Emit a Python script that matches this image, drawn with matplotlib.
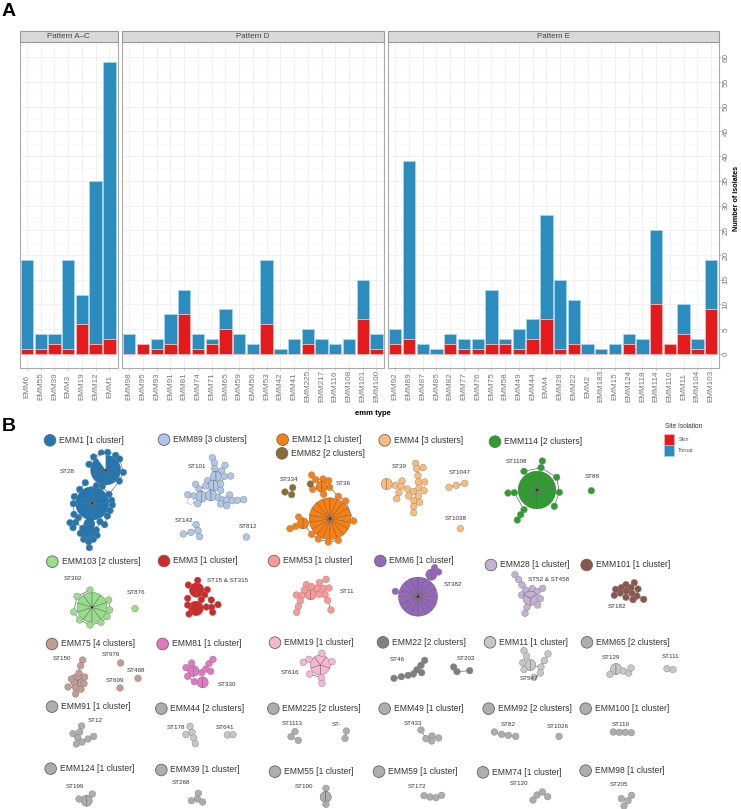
import matplotlib
matplotlib.use('Agg')
import matplotlib.pyplot as plt
from matplotlib.patches import Wedge, Circle, Rectangle

plt.rcParams['font.family'] = ['Liberation Sans', 'DejaVu Sans']

# --- panel A: isolates per emm type ---
PATTERN_NAMES = ['Pattern A–C', 'Pattern D', 'Pattern E']
EMM_AC = ['EMM6', 'EMM55', 'EMM39', 'EMM3', 'EMM19', 'EMM12', 'EMM1']
TOTAL_AC = [19, 4, 4, 19, 12, 35, 59]
SKIN_AC = [1, 1, 2, 1, 6, 2, 3]
EMM_D = ['EMM98', 'EMM95', 'EMM93', 'EMM91', 'EMM81', 'EMM74', 'EMM71', 'EMM65', 'EMM59', 'EMM56',
         'EMM53', 'EMM42', 'EMM41', 'EMM225', 'EMM217', 'EMM116', 'EMM108', 'EMM101', 'EMM100']
TOTAL_D = [4, 2, 3, 8, 13, 4, 3, 9, 4, 2, 19, 1, 3, 5, 3, 2, 3, 15, 4]
SKIN_D = [0, 2, 1, 2, 8, 1, 2, 5, 0, 0, 6, 0, 0, 2, 0, 0, 0, 7, 1]
EMM_E = ['EMM92', 'EMM89', 'EMM87', 'EMM85', 'EMM82', 'EMM77', 'EMM76', 'EMM75', 'EMM58', 'EMM49', 'EMM44', 'EMM4',
         'EMM28', 'EMM22', 'EMM2', 'EMM183', 'EMM15', 'EMM124', 'EMM118', 'EMM114', 'EMM110', 'EMM11', 'EMM104', 'EMM103']
TOTAL_E = [5, 39, 2, 1, 4, 3, 3, 13, 3, 5, 7, 28, 15, 11, 2, 1, 2, 4, 3, 25, 2, 10, 3, 19]
SKIN_E = [2, 3, 0, 0, 2, 1, 1, 2, 2, 1, 3, 7, 1, 2, 0, 0, 0, 2, 0, 10, 2, 4, 1, 9]
Y_TICKS = list(range(0, 61, 5))

# --- panel B: network layouts, (x, y, isolates), 0 isolates = empty node ---
EMM1_ST28 = [(277, 265, 12), (317, 165, 10), (304, 114, 1), (323, 112, 1), (347, 121, 1), (359, 132, 1), (267, 148, 1),
             (281, 126, 1), (370, 172, 1), (358, 198, 1), (256, 203, 1), (239, 223, 1), (289, 212, 1), (307, 214, 1),
             (327, 238, 1), (223, 245, 1), (220, 266, 1), (335, 256, 1), (337, 270, 1), (330, 287, 1), (322, 303, 1),
             (222, 298, 1), (235, 308, 1), (210, 323, 1), (227, 322, 1), (219, 338, 1), (268, 327, 2), (314, 329, 1),
             (248, 340, 1), (289, 345, 1), (241, 355, 1), (265, 355, 3), (291, 361, 1), (251, 373, 1), (280, 373, 1),
             (266, 380, 1), (268, 398, 1), (300, 320, 1)]
EMM89_ST101 = [(637, 128, 1), (643, 144, 1), (644, 161, 1), (675, 151, 1), (665, 168, 1), (648, 185, 2), (673, 184, 1),
               (692, 183, 1), (623, 197, 1), (640, 212, 2), (617, 213, 1), (587, 208, 1), (597, 222, 1), (662, 207, 1),
               (662, 226, 1), (604, 245, 2), (633, 241, 2), (563, 239, 1), (581, 243, 1), (593, 266, 1), (572, 258, 0),
               (655, 248, 1), (668, 255, 1), (689, 240, 1), (680, 255, 1), (697, 257, 1), (712, 256, 1), (731, 254, 1),
               (662, 267, 1), (680, 272, 1)]
EMM89_ST142 = [(588, 329, 1), (594, 347, 1), (573, 352, 1), (550, 357, 1), (599, 365, 1)]
EMM89_ST812 = [(739, 366, 1)]
EMM103_ST392 = [(156, 142, 10), (150, 90, 1), (111, 109, 1), (206, 120, 1), (209, 150, 1), (101, 156, 1), (201, 170, 1),
                (119, 180, 1), (183, 187, 1), (150, 195, 1)]
EMM103_ST876 = [(285, 146, 1)]
EMM3_ST15 = [(470, 90, 3), (468, 145, 3), (473, 61, 1), (445, 75, 1), (502, 89, 1), (443, 115, 1), (494, 104, 1),
             (484, 119, 1), (514, 120, 1), (534, 134, 1), (499, 141, 1), (515, 142, 1), (518, 157, 1), (447, 162, 1),
             (443, 135, 1)]
EMM53_ST11 = [(122, 538, 2), (109, 509, 1), (148, 503, 1), (168, 493, 1), (125, 515, 1), (103, 525, 1), (142, 520, 1),
              (160, 520, 1), (177, 519, 1), (79, 540, 1), (96, 541, 1), (148, 538, 1), (165, 539, 1), (173, 556, 1),
              (91, 558, 1), (85, 575, 1), (183, 585, 1), (80, 592, 1)]
EMM6_ST382 = [(444, 545, 16), (484, 479, 2), (494, 458, 1), (506, 471, 1), (376, 529, 1)]
EMM28_ST52 = [(645, 44, 1), (656, 59, 1), (666, 75, 1), (677, 90, 1), (697, 86, 1), (712, 94, 1), (728, 85, 1),
              (665, 105, 1), (691, 115, 3), (721, 116, 1), (713, 135, 1), (681, 142, 1), (675, 160, 1)]
EMM101_ST182 = [(403, 503, 1), (378, 509, 1), (364, 518, 1), (347, 523, 1), (393, 518, 1), (414, 522, 1), (379, 528, 1),
                (361, 534, 1), (396, 535, 1), (343, 541, 1), (378, 547, 1), (411, 543, 1), (399, 554, 1), (431, 553, 1)]
EMM114_ST1108 = [(111, 225, 15), (127, 138, 1), (123, 158, 1), (72, 169, 1), (170, 187, 1), (178, 232, 1), (43, 233, 1),
                 (24, 234, 1), (163, 274, 1), (72, 284, 1), (62, 299, 1), (52, 315, 1)]
EMM114_ST88 = [(274, 227, 1)]
EMM12_ST36 = [(180, 311, 18), (125, 180, 1), (137, 194, 1), (159, 192, 1), (176, 197, 1), (179, 217, 1), (128, 223, 1),
              (155, 215, 2), (161, 238, 1), (205, 244, 1), (227, 258, 1), (251, 318, 1), (205, 376, 1), (175, 381, 1),
              (145, 372, 1), (125, 358, 1), (99, 325, 2), (86, 306, 1), (77, 334, 1), (60, 341, 1)]
EMM82_ST334 = [(45, 231, 1), (68, 218, 1), (65, 239, 1)]
EMM82_OTHER = [(121, 207, 1)]
EMM4_ST39 = [(350, 207, 2), (376, 211, 1), (396, 198, 1), (393, 214, 1), (387, 232, 1), (380, 251, 1), (412, 222, 1),
             (430, 230, 1), (416, 243, 1), (445, 243, 1), (432, 257, 1), (449, 262, 1), (431, 274, 1), (431, 293, 1),
             (437, 145, 1), (440, 161, 1), (459, 158, 1), (444, 182, 1), (445, 201, 1), (464, 201, 1), (447, 219, 1),
             (462, 227, 1)]
EMM4_ST1047 = [(537, 217, 1), (559, 211, 1), (584, 205, 1)]
EMM4_ST1038 = [(571, 341, 1)]
EMM75_ST150 = [(233, 212, 3), (248, 150, 1), (242, 167, 1), (237, 189, 1), (254, 201, 1), (214, 207, 1), (252, 221, 1),
               (204, 231, 1), (227, 233, 1), (243, 238, 1), (227, 252, 1)]
EMM75_ST976 = [(362, 159, 1)]
EMM75_ST468 = [(414, 205, 1)]
EMM75_ST609 = [(360, 234, 1)]
EMM81_ST330 = [(580, 183, 2), (608, 217, 2), (575, 159, 1), (558, 173, 1), (563, 199, 1), (605, 188, 1), (583, 215, 1),
               (617, 177, 1), (632, 184, 1), (627, 161, 1), (639, 148, 1)]
EMM19_ST616 = [(961, 165, 5), (966, 130, 1), (927, 148, 1), (910, 157, 1), (996, 155, 1), (929, 192, 1), (964, 203, 1),
               (966, 220, 1)]
EMM91_ST12 = [(245, 348, 1), (239, 366, 1), (219, 371, 1), (233, 383, 1), (246, 396, 1), (229, 402, 1), (264, 387, 1),
              (281, 379, 1)]
EMM44_ST178 = [(570, 349, 1), (576, 367, 1), (558, 374, 1), (581, 384, 1), (586, 401, 1)]
EMM44_ST641 = [(682, 375, 1), (699, 374, 1)]
EMM225_ST1113 = [(885, 365, 1), (873, 380, 1), (895, 391, 1)]
EMM225_STX = [(1039, 363, 1), (1035, 385, 1)]
EMM124_ST199 = [(260, 572, 2), (237, 567, 1), (277, 552, 1)]
EMM39_ST268 = [(595, 550, 1), (592, 567, 1), (574, 572, 1), (608, 576, 1)]
EMM55_ST100 = [(978, 535, 1), (977, 561, 2), (978, 583, 1)]
EMM22_ST46 = [(164, 151, 1), (153, 166, 1), (141, 179, 1), (155, 188, 1), (130, 192, 1), (114, 196, 1), (94, 200, 1),
              (72, 205, 1)]
EMM22_ST202 = [(251, 171, 1), (261, 185, 1), (299, 182, 1)]
EMM11_ST547 = [(481, 165, 2), (462, 122, 1), (470, 138, 1), (458, 158, 1), (462, 179, 1), (534, 132, 1), (523, 152, 1),
               (513, 171, 1), (511, 189, 1), (492, 202, 1)]
EMM65_ST129 = [(738, 177, 2), (720, 193, 1), (760, 183, 1), (776, 189, 1), (783, 174, 1)]
EMM65_ST111 = [(891, 176, 1), (909, 179, 1)]
EMM49_ST433 = [(153, 360, 1), (186, 378, 1), (168, 386, 1), (185, 393, 1), (206, 384, 1)]
EMM92_ST82 = [(373, 366, 1), (395, 373, 1), (415, 376, 1), (437, 379, 1)]
EMM92_ST1026 = [(567, 379, 1)]
EMM100_ST119 = [(730, 366, 1), (748, 367, 1), (766, 367, 1), (784, 368, 1)]
EMM59_ST172 = [(162, 557, 1), (180, 561, 1), (198, 563, 1), (215, 556, 1)]
EMM74_ST120 = [(489, 570, 1), (501, 555, 1), (517, 546, 1), (533, 560, 1)]
EMM98_ST205 = [(785, 556, 1), (774, 572, 1), (754, 566, 1), (762, 588, 1)]

# crop origin the coordinates were read in (they are 3x pixels from there)
C5, C6, C7, C8, C9, C10, C11 = (0, 415), (270, 415), (500, 415), (0, 610), (370, 610), (40, 560), (300, 560)

# title, key colour, node colour, origin, key dot, text x, clusters, ST labels
NETWORKS = [
    ('EMM1 [1 cluster]', '#1f77b4', '#1f77b4', C5, (150, 76), 176, [EMM1_ST28], [('ST28', 201, 169)]),
    ('EMM89 [3 clusters]', '#aec7e8', '#aec7e8', C5, (492, 74), 519, [EMM89_ST101, EMM89_ST142, EMM89_ST812],
     [('ST101', 591, 153), ('ST142', 551, 318), ('ST812', 743, 334)]),
    ('EMM12 [1 cluster]', '#ff7f0e', '#ff7f0e', C6, (38, 74), 65, [EMM12_ST36], [('ST36', 220, 204)]),
    ('EMM82 [2 clusters]', '#8c6d31', '#8c6d31', C6, (36, 115), 63, [EMM82_ST334, EMM82_OTHER], [('ST334', 57, 192)]),
    ('EMM4 [3 clusters]', '#ffbb78', '#ffbb78', C6, (344, 76), 371, [EMM4_ST39, EMM4_ST1047, EMM4_ST1038],
     [('ST39', 388, 154), ('ST1047', 570, 171), ('ST1038', 558, 309)]),
    ('EMM114 [2 clusters]', '#2ca02c', '#2ca02c', C7, (-15, 80), 11, [EMM114_ST1108, EMM114_ST88],
     [('ST1108', 50, 140), ('ST88', 278, 185)]),
    ('EMM103 [2 clusters]', '#98df8a', '#98df8a', C5, (157, 440), 185, [], []),
    ('', '#98df8a', '#98df8a', C10, None, 0, [EMM103_ST392, EMM103_ST876], [('ST392', 100, 57), ('ST876', 287, 98)]),
    ('EMM3 [1 cluster]', '#d62728', '#d62728', C5, (492, 438), 519, [], []),
    ('', '#d62728', '#d62728', C10, None, 0, [EMM3_ST15], [('ST15 & ST315', 562, 61)]),
    ('EMM53 [1 cluster]', '#ff9896', '#ff9896', C6, (12, 438), 38, [EMM53_ST11], [('ST11', 230, 530)]),
    ('EMM6 [1 cluster]', '#9467bd', '#9467bd', C6, (331, 438), 357, [EMM6_ST382], [('ST382', 548, 510)]),
    ('EMM28 [1 cluster]', '#c5b0d5', '#c5b0d5', C11, (573, 15), 601, [EMM28_ST52], [('ST52 & ST458', 746, 58)]),
    ('EMM101 [1 cluster]', '#8c564b', '#8c564b', C7, (260, 450), 287, [EMM101_ST182], [('ST182', 351, 575)]),
    ('EMM75 [4 clusters]', '#c49c94', '#c49c94', C8, (156, 102), 183,
     [EMM75_ST150, EMM75_ST976, EMM75_ST468, EMM75_ST609],
     [('ST150', 186, 144), ('ST976', 334, 135), ('ST468', 408, 180), ('ST609', 346, 212)]),
    ('EMM81 [1 cluster]', '#e377c2', '#e377c2', C8, (488, 102), 515, [EMM81_ST330], [('ST330', 680, 222)]),
    ('EMM19 [1 cluster]', '#f7b6d2', '#f7b6d2', C8, (825, 98), 851, [EMM19_ST616], [('ST616', 871, 188)]),
    ('EMM22 [2 clusters]', '#7f7f7f', '#7f7f7f', C9, (39, 97), 65, [EMM22_ST46, EMM22_ST202],
     [('ST46', 81, 148), ('ST202', 288, 147)]),
    ('EMM11 [1 cluster]', '#c7c7c7', '#c7c7c7', C9, (360, 97), 386, [EMM11_ST547], [('ST547', 476, 205)]),
    ('EMM65 [2 clusters]', '#adadad', '#c7c7c7', C9, (651, 97), 677, [EMM65_ST129, EMM65_ST111],
     [('ST129', 724, 143), ('ST111', 902, 139)]),
    ('EMM91 [1 cluster]', '#adadad', '#adadad', C8, (156, 290), 183, [EMM91_ST12], [('ST12', 287, 330)]),
    ('EMM44 [2 clusters]', '#adadad', '#c7c7c7', C8, (484, 296), 511, [EMM44_ST178, EMM44_ST641],
     [('ST178', 529, 352), ('ST641', 675, 352)]),
    ('EMM225 [2 clusters]', '#adadad', '#adadad', C8, (820, 296), 847, [EMM225_ST1113, EMM225_STX],
     [('ST1113', 876, 340), ('ST-', 1010, 343)]),
    ('EMM49 [1 cluster]', '#adadad', '#adadad', C9, (44, 296), 71, [EMM49_ST433], [('ST433', 128, 341)]),
    ('EMM92 [2 clusters]', '#adadad', '#adadad', C9, (356, 296), 383, [EMM92_ST82, EMM92_ST1026],
     [('ST82', 415, 343), ('ST1026', 562, 351)]),
    ('EMM100 [1 cluster]', '#adadad', '#adadad', C9, (647, 296), 674, [EMM100_ST119], [('ST119', 753, 342)]),
    ('EMM124 [1 cluster]', '#adadad', '#adadad', C8, (152, 476), 179, [EMM124_ST199], [('ST199', 223, 530)]),
    ('EMM39 [1 cluster]', '#adadad', '#adadad', C8, (484, 480), 511, [EMM39_ST268], [('ST268', 544, 518)]),
    ('EMM55 [1 cluster]', '#adadad', '#adadad', C8, (825, 485), 851, [EMM55_ST100], [('ST100', 913, 530)]),
    ('EMM59 [1 cluster]', '#adadad', '#adadad', C9, (27, 485), 53, [EMM59_ST172], [('ST172', 142, 530)]),
    ('EMM74 [1 cluster]', '#adadad', '#adadad', C9, (339, 487), 365, [EMM74_ST120], [('ST120', 448, 520)]),
    ('EMM98 [1 cluster]', '#adadad', '#adadad', C9, (647, 482), 674, [EMM98_ST205], [('ST205', 746, 525)]),
]

W, H = 741, 809
SKIN = '#e41a1c'
THROAT = '#2b8cbe'
TICK_GREY = '#777777'
PANEL_TOP, PANEL_BOTTOM = 42.3, 368.3
STEP = 13.73
# left edge, right edge, first bar centre in pixels
PANELS = [(19.5, 117.5, 27.0), (121.5, 384.0, 129.3), (388.0, 718.7, 395.3)]

fig = plt.figure(figsize=(W / 100, H / 100), dpi=100)


def draw_panel(left, right, first, names, total, skin, last):
    ax = fig.add_axes([left / W, 1 - PANEL_BOTTOM / H, (right - left) / W, (PANEL_BOTTOM - PANEL_TOP) / H])
    xs = list(range(len(names)))
    throat = [t - s for t, s in zip(total, skin)]
    ax.bar(xs, throat, bottom=skin, width=0.9, color=THROAT, edgecolor='#a9d3ea', linewidth=0.6, zorder=3)
    ax.bar(xs, skin, width=0.9, color=SKIN, edgecolor='#f6b9ba', linewidth=0.6, zorder=3)
    ax.set_xlim((left - first) / STEP, (right - first) / STEP)
    ax.set_ylim(-2.9, 63)
    ax.set_xticks(xs)
    ax.set_xticklabels(names, rotation=90, va='center', ha='center', fontsize=5.9, color=TICK_GREY)
    ax.set_yticks(Y_TICKS)
    ax.set_yticks([v + 2.5 for v in Y_TICKS[:-1]] + [62.5], minor=True)
    ax.tick_params(axis='x', length=1.5, width=0.5, color='#aaaaaa', pad=11.3)
    ax.tick_params(axis='y', which='minor', length=0)
    ax.grid(True, which='major', color='#f0f0f0', linewidth=0.7, zorder=0)
    ax.grid(True, which='minor', axis='y', color='#f6f6f6', linewidth=0.5, zorder=0)
    ax.set_axisbelow(True)
    if last:
        ax.yaxis.tick_right()
        ax.set_yticklabels([str(v) for v in Y_TICKS], rotation=90, va='center', fontsize=5.9, color=TICK_GREY)
        ax.tick_params(axis='y', which='major', length=1.5, width=0.5, color='#aaaaaa', pad=1.5)
    else:
        ax.tick_params(axis='y', which='major', length=0, labelleft=False)
    for s in ax.spines.values():
        s.set_color('#aaaaaa')
        s.set_linewidth(0.8)
    return ax


draw_panel(*PANELS[0], EMM_AC, TOTAL_AC, SKIN_AC, False)
draw_panel(*PANELS[1], EMM_D, TOTAL_D, SKIN_D, False)
draw_panel(*PANELS[2], EMM_E, TOTAL_E, SKIN_E, True)

# everything else lives on a full-figure axes in pixel units
net = fig.add_axes([0, 0, 1, 1], zorder=5)
net.set_xlim(0, W)
net.set_ylim(H, 0)
net.axis('off')
net.patch.set_alpha(0)

for (left, right, first), name in zip(PANELS, PATTERN_NAMES):
    net.add_patch(Rectangle((left, 31), right - left, 11.3, facecolor='#d9d9d9', edgecolor='#999999', linewidth=0.8))
    net.text((left + right) / 2, 36, name, fontsize=5.7, ha='center', va='center', color='#444444')

net.text(373, 413, 'emm type', fontsize=5.5, fontweight='bold', ha='center', va='center')
net.text(736.5, 198, 'Number of isolates', fontsize=5.2, fontweight='bold', rotation=90, ha='center', va='center')
net.text(1.5, 11.5, 'A', fontsize=14, fontweight='bold', va='center')
net.text(1.5, 426, 'B', fontsize=14, fontweight='bold', va='center')

# site isolation key
net.text(683.7, 426.3, 'Site Isolation', fontsize=4.7, ha='center', va='center', color='#333333')
net.add_patch(Rectangle((664, 433.7), 10.3, 11, facecolor=SKIN, edgecolor='#f6b9ba', linewidth=0.5))
net.add_patch(Rectangle((664, 445), 10.3, 11, facecolor=THROAT, edgecolor='#a9d3ea', linewidth=0.5))
net.text(678.3, 439.2, 'Skin', fontsize=3.9, va='center', color='#555555')
net.text(678.3, 450.7, 'Throat', fontsize=3.9, va='center', color='#555555')


def node_radius(n):
    return 5.4 * max(n, 1) ** 0.5 - 2.1


def to_px(origin, x, y):
    return origin[0] + x / 3, origin[1] + y / 3


def draw_edges(nodes):
    # nodes are joined along a minimum spanning tree, edges mostly sit under the circles
    done = [nodes[0]]
    rest = list(nodes[1:])
    while rest:
        best = min(((a, b) for a in done for b in rest),
                   key=lambda p: (p[0][0] - p[1][0]) ** 2 + (p[0][1] - p[1][1]) ** 2)
        net.plot([best[0][0], best[1][0]], [best[0][1], best[1][1]], color='#444444', lw=0.4, zorder=2)
        done.append(best[1])
        rest.remove(best[1])


def draw_node(x, y, n, color):
    r = node_radius(n)
    if n == 0:
        net.add_patch(Circle((x, y), r, facecolor='white', edgecolor='#aaaaaa', linewidth=0.4, zorder=3))
    elif n == 1:
        net.add_patch(Circle((x, y), r, facecolor=color, edgecolor='#808080', linewidth=0.3, zorder=3))
    else:
        # one wedge per isolate, y axis is flipped so 270 is straight up
        for i in range(n):
            a = 90 + i * 360 / n
            net.add_patch(Wedge((x, y), r, a, a + 360 / n, facecolor=color, edgecolor='#5a5a5a', linewidth=0.28, zorder=3))
        if n >= 9:
            net.add_patch(Circle((x, y), 0.7, facecolor='black', edgecolor='none', zorder=4))


for title, key_color, node_color, origin, dot, text_x, clusters, labels in NETWORKS:
    if dot is not None:
        px, py = to_px(origin, *dot)
        net.add_patch(Circle((px, py), 5.8, facecolor=key_color, edgecolor='#666666', linewidth=0.6, zorder=3))
        tx, _ = to_px(origin, text_x, dot[1])
        net.text(tx, py - 0.3, title, fontsize=6.15, va='center', color='#333333')
    for cluster in clusters:
        nodes = [to_px(origin, x, y) + (n,) for x, y, n in cluster]
        draw_edges(nodes)
        for x, y, n in nodes:
            draw_node(x, y, n, node_color)
    for text, x, y in labels:
        lx, ly = to_px(origin, x, y)
        net.text(lx, ly, text, fontsize=4.5, ha='center', va='center', color='#333333')

# the big ST28 node has one empty slice at the top
bx, by = to_px(C5, EMM1_ST28[1][0], EMM1_ST28[1][1])
net.add_patch(Wedge((bx, by), node_radius(EMM1_ST28[1][2]) + 0.3, 234, 270, facecolor='white', edgecolor='#bbbbbb', linewidth=0.3, zorder=3.5))

fig.savefig('out.png', dpi=100)
